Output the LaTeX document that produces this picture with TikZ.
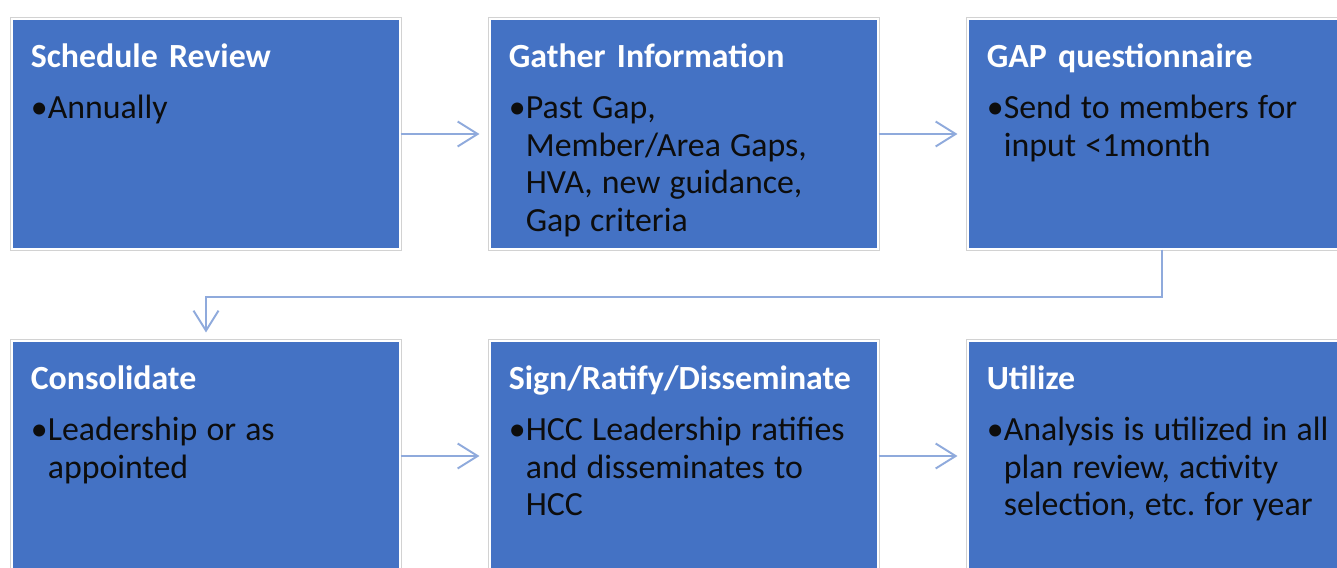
\documentclass[tikz,border=0pt]{standalone}
\usepackage{fontspec}
\setmainfont{Carlito}
\usetikzlibrary{arrows.meta}

\definecolor{boxblue}{HTML}{4472C4}
\definecolor{flowblue}{HTML}{8FAADC}
\definecolor{inktext}{HTML}{0D0D0D}

\newcommand{\steptitle}[1]{{\bfseries\color{white}#1}\par\vspace{7.6pt}}
\newcommand{\stepitem}[1]{\spaceskip=0.27em\relax\hangindent=0.34cm\hangafter=1\noindent\makebox[0.34cm][l]{\textbullet}#1\par}

\begin{document}
\frenchspacing
\begin{tikzpicture}[
        stepbox/.style={rectangle, fill=boxblue, draw=white, line width=0.6pt,
          minimum width=7.76cm, minimum height=4.6cm, inner sep=0pt,
          preaction={draw=gray!35, line width=1.8pt}},
        steptext/.style={anchor=base west, inner sep=0pt, text width=7.3cm, align=left,
          text=inktext, font=\fontsize{19.25pt}{21.45pt}\selectfont},
        flow/.style={draw=flowblue, line width=1.1pt,
          -{Straight Barb[length=0.4cm, width=0.5cm, line width=1.1pt]}}]
        \clip (0,0) rectangle (26.74,-11.34);
        % ---- 上排 ----
        \node[stepbox] (sched)  at (4.12, -2.68)  {};
        \node[stepbox] (gather) at (13.68, -2.68) {};
        \node[stepbox] (quest)  at (23.24, -2.68) {};
        % ---- 下排 ----
        \node[stepbox] (consol) at (4.12, -9.12)  {};
        \node[stepbox] (ratify) at (13.68, -9.12) {};
        \node[stepbox] (util)   at (23.24, -9.12) {};
        % ---- 文字 ----
        \node[steptext] (schedtx) at ([shift={(0.38,-0.98)}]sched.north west)
          {\steptitle{Schedule Review}\stepitem{Annually}};
        \node[steptext] (gathertx) at ([shift={(0.38,-0.98)}]gather.north west)
          {\steptitle{Gather Information}\stepitem{Past Gap,\newline Member/Area Gaps,\newline HVA, new guidance,\newline Gap criteria}};
        \node[steptext] (questtx) at ([shift={(0.38,-0.98)}]quest.north west)
          {\steptitle{GAP questionnaire}\stepitem{Send to members for\newline input <1month}};
        \node[steptext] (consoltx) at ([shift={(0.38,-0.98)}]consol.north west)
          {\steptitle{Consolidate}\stepitem{Leadership or as\newline appointed}};
        \node[steptext] (ratifytx) at ([shift={(0.38,-0.98)}]ratify.north west)
          {\steptitle{Sign/Ratify/Disseminate}\stepitem{HCC Leadership ratifies\newline and disseminates to\newline HCC}};
        \node[steptext] (utiltx) at ([shift={(0.38,-0.98)}]util.north west)
          {\steptitle{Utilize}\stepitem{Analysis is utilized in all\newline plan review, activity\newline selection, etc. for year}};
        % ---- 连接箭头 ----
        \coordinate (midrow) at (0, -5.94);
        \draw[flow, shorten >=0.2cm] (sched) -- (gather);
        \draw[flow, shorten >=0.2cm] (gather) -- (quest);
        \draw[flow, shorten >=0.16cm] (quest.south) -- (quest.south |- midrow) -| (consol.north);
        \draw[flow, shorten >=0.2cm] (consol) -- (ratify);
        \draw[flow, shorten >=0.2cm] (ratify) -- (util);
\end{tikzpicture}
\end{document}
